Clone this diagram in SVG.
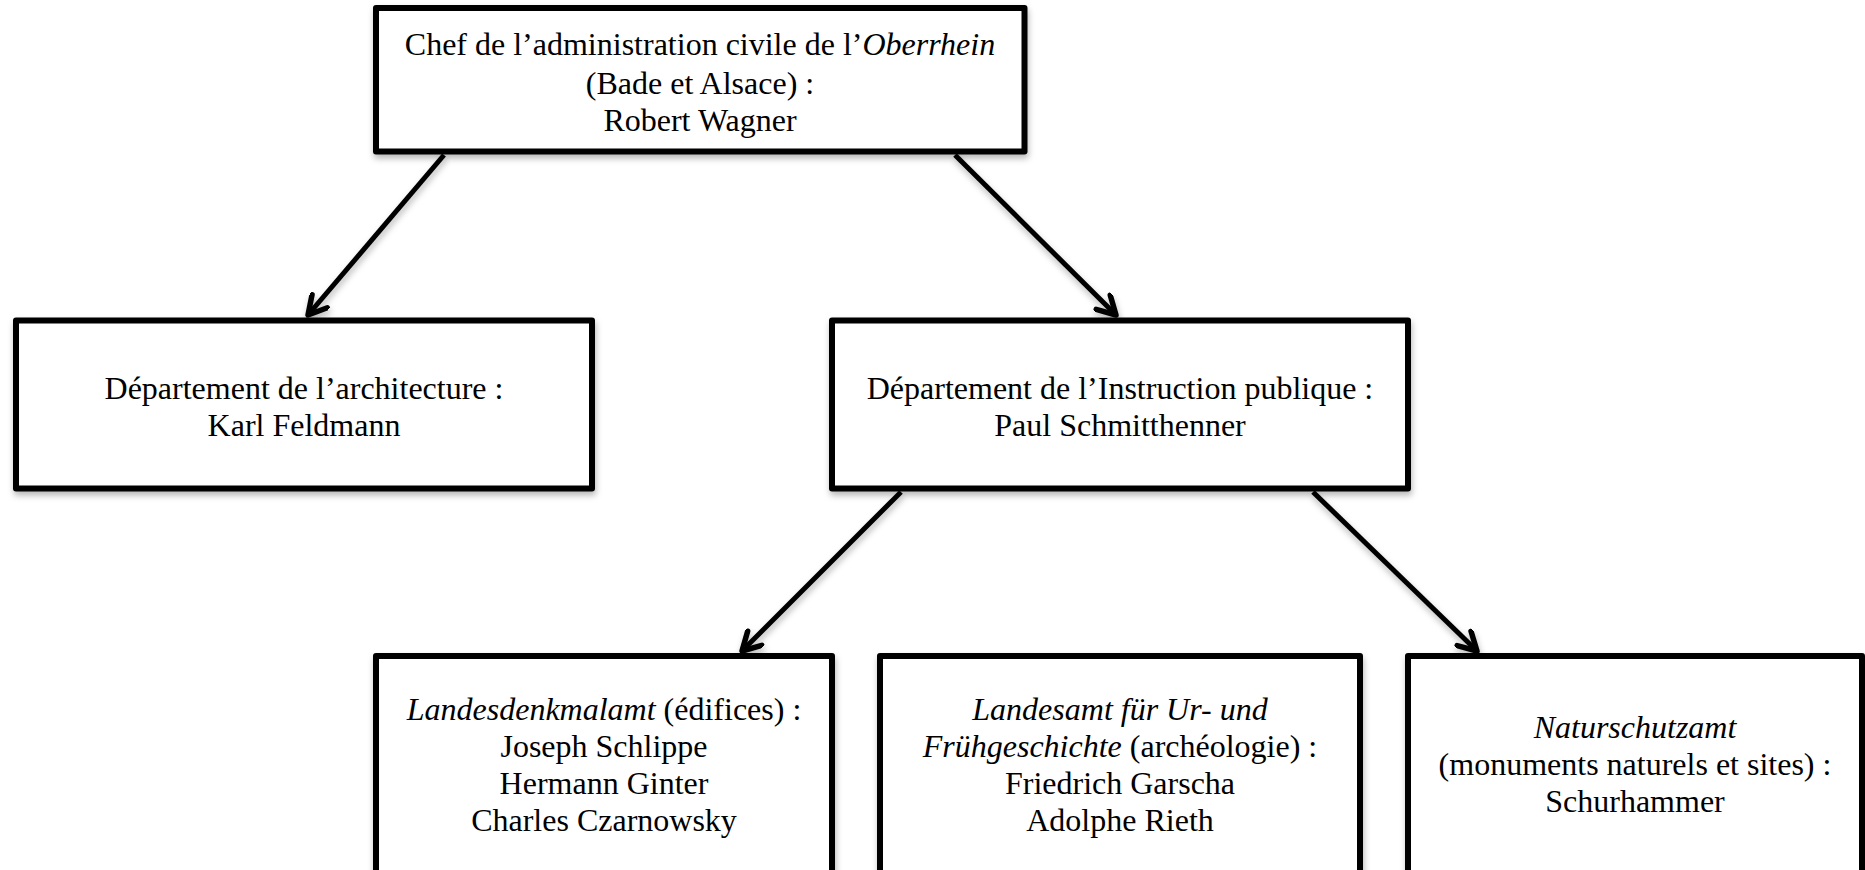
<svg xmlns="http://www.w3.org/2000/svg" width="1865" height="870" viewBox="0 0 1865 870">
  <defs>
    <filter id="sh" x="-5%" y="-5%" width="110%" height="115%">
      <feDropShadow dx="1" dy="4" stdDeviation="3" flood-color="#000" flood-opacity="0.28"/>
    </filter>
    <marker id="arr" viewBox="-22 -12 26 24" refX="0" refY="0" markerWidth="26" markerHeight="24" markerUnits="userSpaceOnUse" orient="auto">
      <path d="M -18 -10 L 0 0 L -18 10" fill="none" stroke="#000" stroke-width="5.5" stroke-linecap="round" stroke-linejoin="round"/>
    </marker>
    <style>
      .box { fill: #fff; stroke: #000; stroke-width: 6; stroke-linejoin: round; filter: url(#sh); }
      .t { font-family: "Liberation Serif", "Times New Roman", serif; font-size: 32px; fill: #000; text-anchor: middle; }
      .i { font-style: italic; }
      .c { stroke: #000; stroke-width: 5; fill: none; marker-end: url(#arr); filter: url(#sh); }
    </style>
  </defs>
  <rect width="1865" height="870" fill="#fff"/>

  <g id="connectors">
    <line class="c" x1="444" y1="155" x2="308" y2="315"/>
    <line class="c" x1="955" y1="155" x2="1116" y2="315"/>
    <line class="c" x1="901" y1="492" x2="742" y2="651"/>
    <line class="c" x1="1120" y1="492" x2="1120" y2="651"/>
    <line class="c" x1="1313" y1="492" x2="1477" y2="651"/>
  </g>

  <g id="chef">
    <rect class="box" x="376" y="8" width="648.5" height="143.5"/>
    <text class="t" x="700" y="55">Chef de l’administration civile de l’<tspan class="i">Oberrhein</tspan></text>
    <text class="t" x="700" y="93.5">(Bade et Alsace) :</text>
    <text class="t" x="700" y="131">Robert Wagner</text>
  </g>

  <g id="architecture">
    <rect class="box" x="16" y="320.5" width="576" height="168"/>
    <text class="t" x="304" y="399">Département de l’architecture :</text>
    <text class="t" x="304" y="436">Karl Feldmann</text>
  </g>

  <g id="instruction">
    <rect class="box" x="832" y="320.5" width="576" height="168"/>
    <text class="t" x="1120" y="399">Département de l’Instruction publique :</text>
    <text class="t" x="1120" y="436">Paul Schmitthenner</text>
  </g>

  <g id="denkmalamt">
    <rect class="box" x="376" y="656" width="456" height="220"/>
    <text class="t" x="604" y="720"><tspan class="i">Landesdenkmalamt</tspan> (édifices) :</text>
    <text class="t" x="604" y="757">Joseph Schlippe</text>
    <text class="t" x="604" y="794">Hermann Ginter</text>
    <text class="t" x="604" y="831">Charles Czarnowsky</text>
  </g>

  <g id="landesamt">
    <rect class="box" x="880" y="656" width="480" height="220"/>
    <text class="t i" x="1120" y="720">Landesamt für Ur- und</text>
    <text class="t" x="1120" y="757"><tspan class="i">Frühgeschichte</tspan> (archéologie) :</text>
    <text class="t" x="1120" y="794">Friedrich Garscha</text>
    <text class="t" x="1120" y="831">Adolphe Rieth</text>
  </g>

  <g id="naturschutzamt">
    <rect class="box" x="1408" y="656" width="454" height="220"/>
    <text class="t i" x="1635" y="738">Naturschutzamt</text>
    <text class="t" x="1635" y="775">(monuments naturels et sites) :</text>
    <text class="t" x="1635" y="812">Schurhammer</text>
  </g>
</svg>
